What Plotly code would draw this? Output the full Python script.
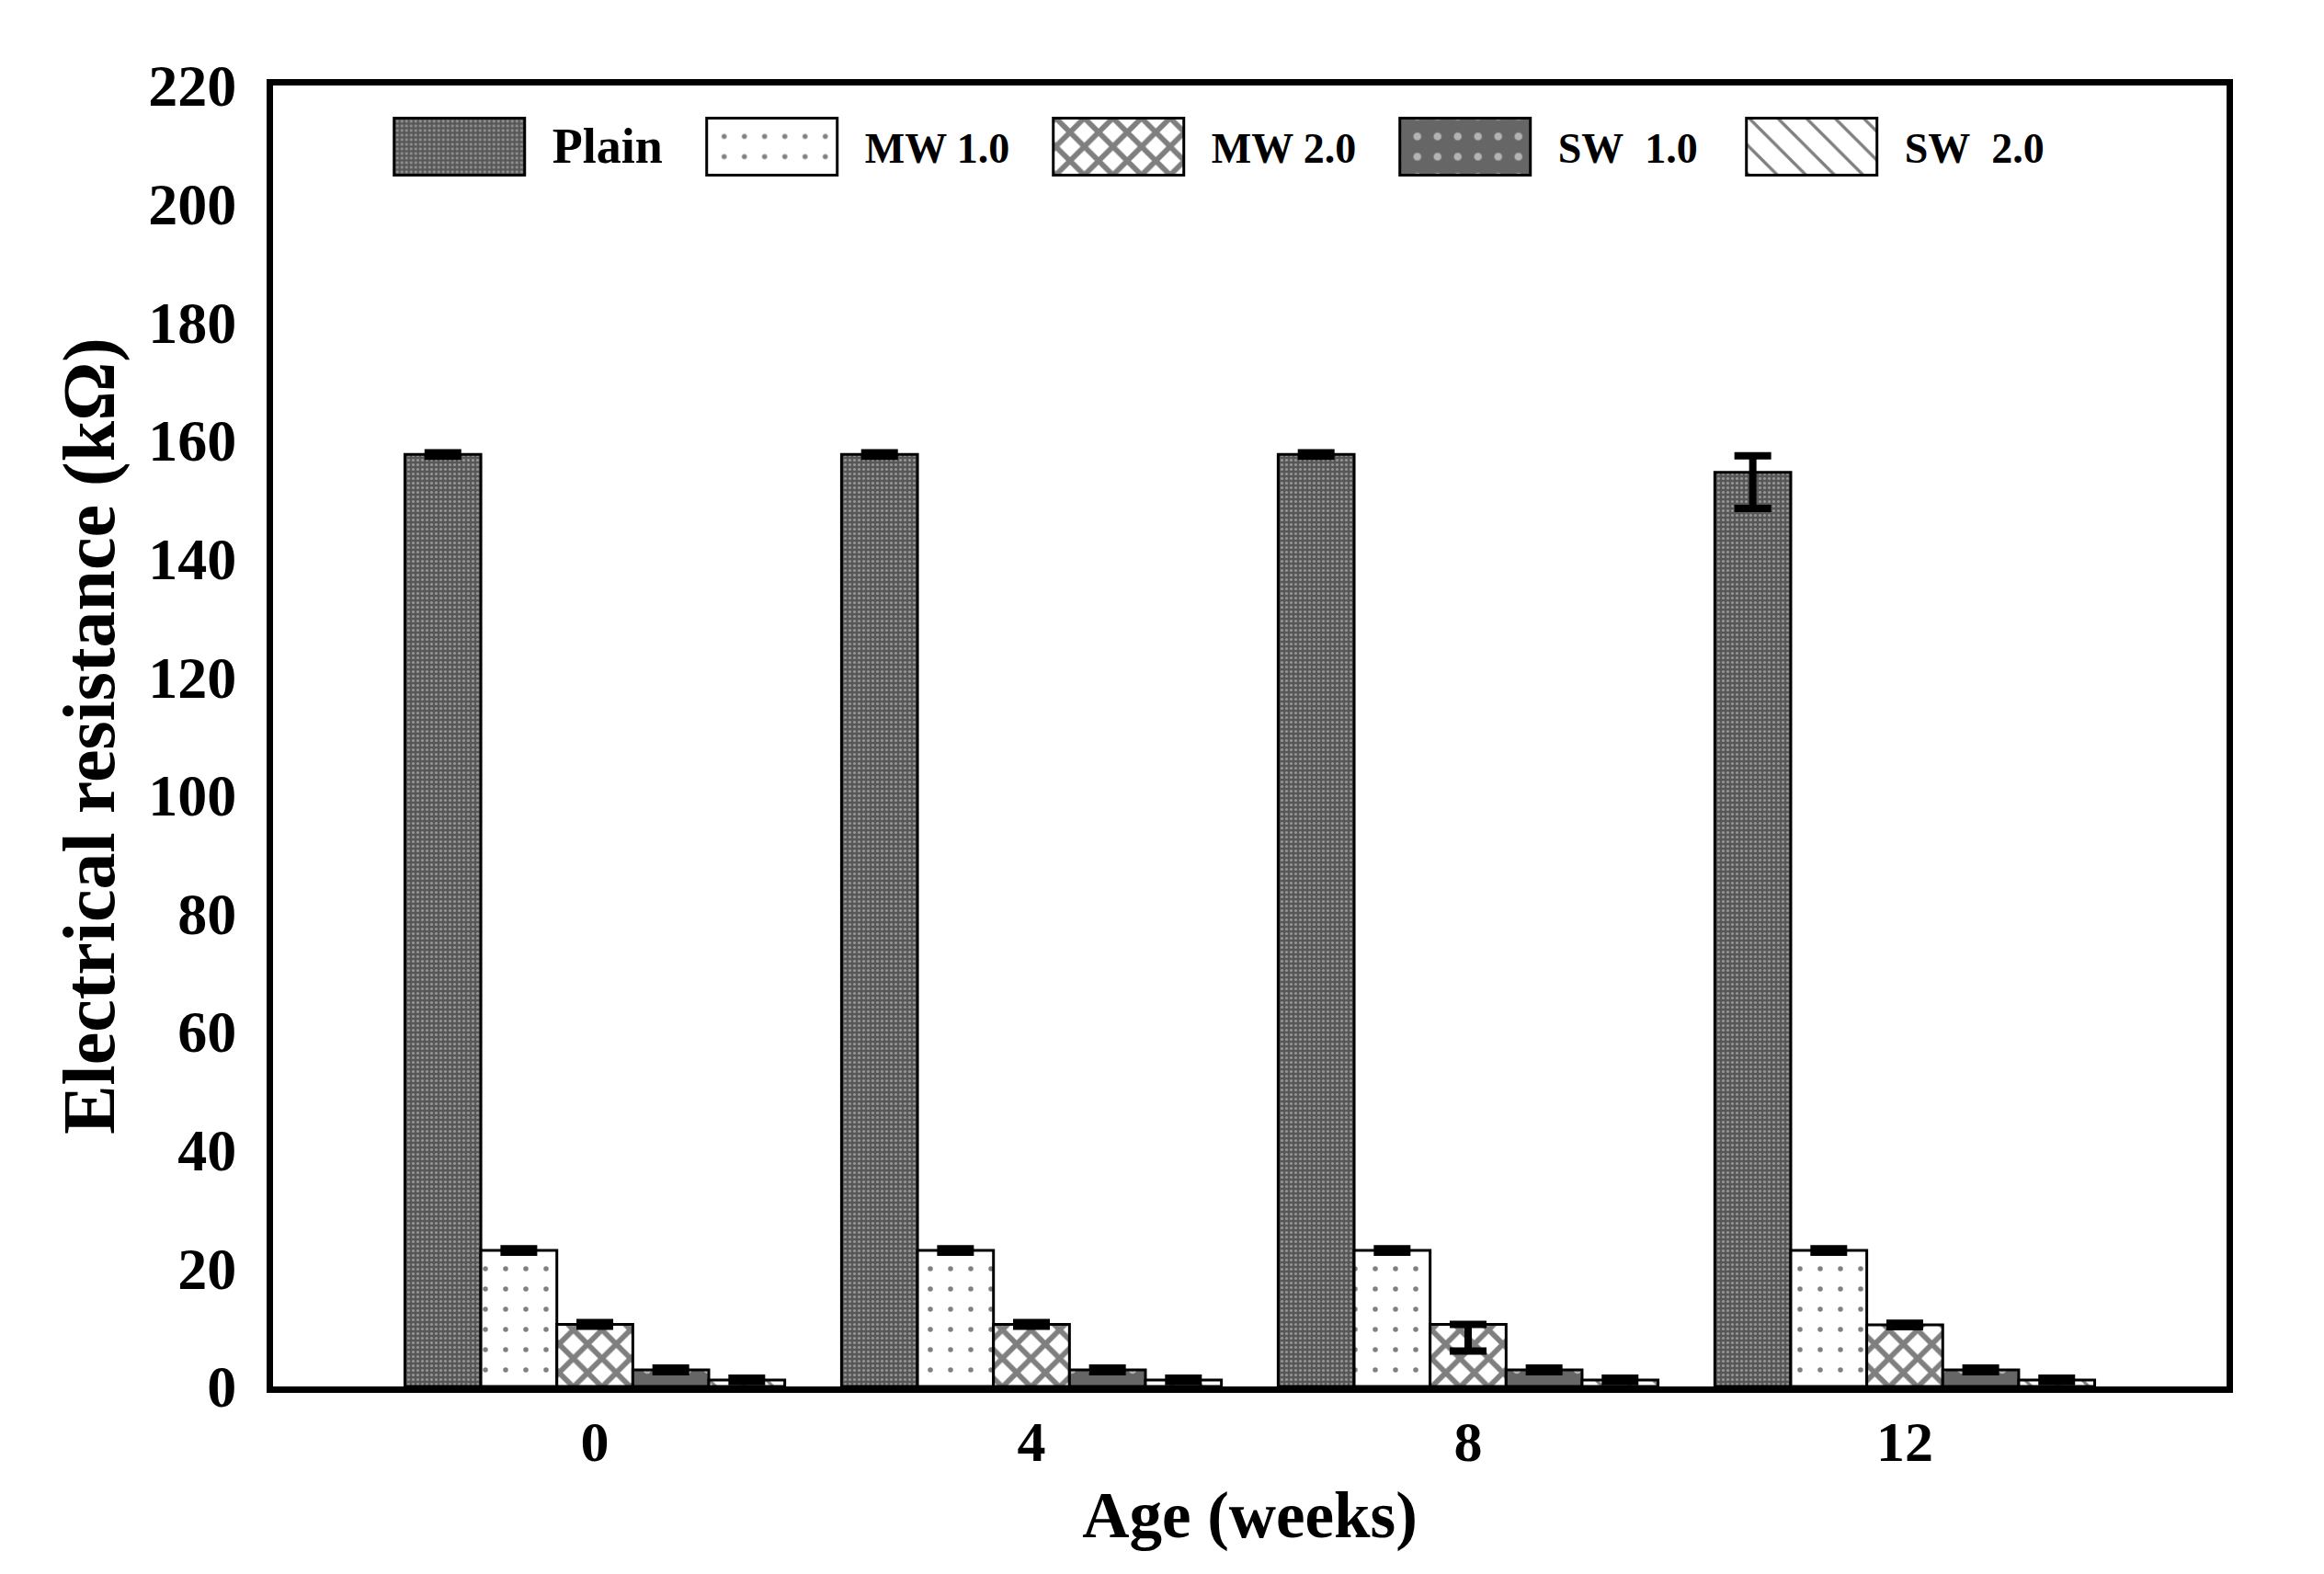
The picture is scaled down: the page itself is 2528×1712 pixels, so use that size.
import plotly.graph_objects as go

weeks = ["0", "4", "8", "12"]
series_names = ["Plain", "MW 1.0", "MW 2.0", "SW\u00a0 1.0", "SW\u00a0 2.0"]

plain = [157.6, 157.6, 157.6, 154.6]
plain_err_plus = [0.3, 0.3, 0.3, 2.8]
plain_err_minus = [0.3, 0.3, 0.3, 6.1]

mw1 = [23.0, 23.0, 23.0, 23.0]
mw1_err_plus = [0.3, 0.3, 0.3, 0.3]
mw1_err_minus = [0.3, 0.3, 0.3, 0.3]

mw2 = [10.5, 10.5, 10.5, 10.4]
mw2_err_plus = [0.3, 0.3, 0.0, 0.3]
mw2_err_minus = [0.3, 0.3, 4.5, 0.3]

sw1 = [2.8, 2.8, 2.8, 2.8]
sw1_err_plus = [0.3, 0.3, 0.3, 0.3]
sw1_err_minus = [0.3, 0.3, 0.3, 0.3]

sw2 = [1.1, 1.1, 1.1, 1.1]
sw2_err_plus = [0.3, 0.3, 0.3, 0.3]
sw2_err_minus = [0.3, 0.3, 0.3, 0.3]

y_ticks = [0, 20, 40, 60, 80, 100, 120, 140, 160, 180, 200, 220]

FONT = "Liberation Serif"

patterns = [
    dict(shape=".", bgcolor="#575757", fgcolor="#d4d4d4", size=5, solidity=0.3),
    dict(shape=".", bgcolor="white", fgcolor="black", size=22, solidity=0.05),
    dict(shape="x", bgcolor="white", fgcolor="black", size=22, solidity=0.45),
    dict(shape=".", bgcolor="#666666", fgcolor="white", size=22, solidity=0.12),
    dict(shape="\\", bgcolor="white", fgcolor="black", size=22, solidity=0.15),
]

data = [
    (plain, plain_err_plus, plain_err_minus),
    (mw1, mw1_err_plus, mw1_err_minus),
    (mw2, mw2_err_plus, mw2_err_minus),
    (sw1, sw1_err_plus, sw1_err_minus),
    (sw2, sw2_err_plus, sw2_err_minus),
]

fig = go.Figure()
for name, (vals, ep, em), pat in zip(series_names, data, patterns):
    label = name
    if name == "Plain":
        label = '<span style="font-size:54px">Plain</span>'
    fig.add_trace(go.Bar(
        x=weeks, y=vals, name=label,
        marker=dict(color=pat["bgcolor"], pattern=pat,
                    line=dict(color="black", width=3)),
        error_y=dict(type="data", symmetric=False, array=ep, arrayminus=em,
                     color="black", thickness=8, width=20),
    ))

fig.update_layout(
    width=2528, height=1712,
    margin=dict(l=289, r=114, t=85, b=212),
    paper_bgcolor="white", plot_bgcolor="white",
    barmode="group", bargap=0.13, bargroupgap=0,
    font=dict(family=FONT, color="black"),
    legend=dict(
        orientation="h", x=0.0714, xanchor="left", y=0.953, yanchor="middle",
        font=dict(family=FONT, size=46, color="black", weight="bold"),
        itemwidth=142, entrywidth=220, entrywidthmode="pixels",
        bgcolor="rgba(0,0,0,0)", traceorder="normal",
    ),
    xaxis=dict(
        range=[-0.737, 3.737], showline=True, linecolor="black", linewidth=7,
        mirror=True, ticks="", showgrid=False, zeroline=False,
        tickfont=dict(family=FONT, size=62, color="black", weight="bold"),
        ticklabelstandoff=0,
        title=dict(text="Age (weeks)", font=dict(family=FONT, size=71, color="black", weight="bold"), standoff=23),
    ),
    yaxis=dict(
        range=[0, 220], tickvals=y_ticks, showline=True, linecolor="black", linewidth=7,
        mirror=True, ticks="", showgrid=False, zeroline=False,
        tickfont=dict(family=FONT, size=64, color="black", weight="bold"),
        ticklabelstandoff=20,
        title=dict(text="Electrical resistance (kΩ)", font=dict(family=FONT, size=80, color="black", weight="bold"), standoff=13),
    ),
)

post = """
var gd = document.getElementById('{plot_id}');
function bigSwatches(){
  gd.querySelectorAll('.legend [clip-path]').forEach(function(e){ e.removeAttribute('clip-path'); });
  var barTraces = gd.querySelectorAll('.barlayer .trace');
  var legTraces = gd.querySelectorAll('.legend .traces');
  legTraces.forEach(function(lt, i){
    var p = lt.querySelector('.legendpoints path');
    if(!p) return;
    p.setAttribute('d','M46,31H-96V-31H46Z');
    p.style.strokeWidth = '3px';
    if(barTraces[i]){
      var bp = barTraces[i].querySelector('.point path');
      if(bp && bp.style.fill){ p.style.fill = bp.style.fill; }
    }
    if(i > 0 && !lt.getAttribute('data-shifted')){
      var tr = lt.getAttribute('transform') || '';
      var m = tr.match(/translate\\(\\s*([-\\d.eE]+)[ ,]+([-\\d.eE]+)\\s*\\)/);
      if(m){
        lt.setAttribute('transform', 'translate(' + (parseFloat(m[1]) - 37) + ',' + m[2] + ')');
        lt.setAttribute('data-shifted', '1');
      }
    }
  });
}
bigSwatches();
gd.on('plotly_afterplot', bigSwatches);
"""
fig.write_html("out.html", post_script=post)
